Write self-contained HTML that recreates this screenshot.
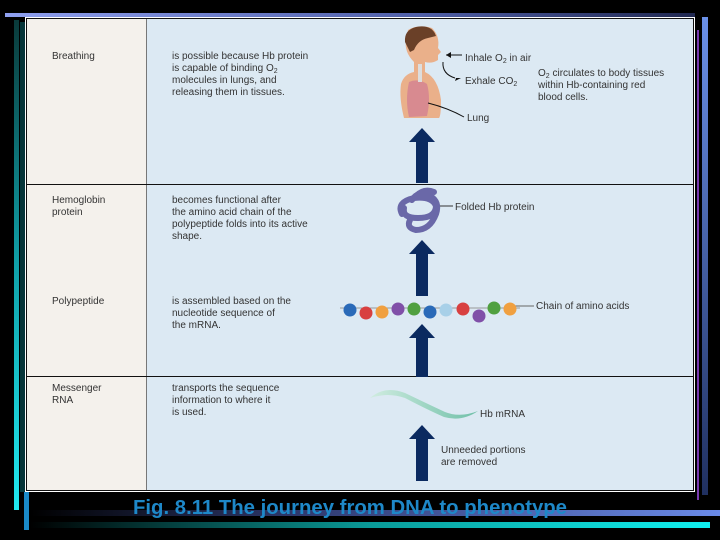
<!DOCTYPE html>
<html><head><meta charset="utf-8"><style>
body{margin:0;background:#000;width:720px;height:540px;overflow:hidden}
svg{display:block}
text{font-family:"Liberation Sans",sans-serif}
</style></head><body>
<svg width="720" height="540" viewBox="0 0 720 540" xmlns="http://www.w3.org/2000/svg">
<defs>
<linearGradient id="top" x1="0" x2="1"><stop offset="0" stop-color="#8fa0f0"/><stop offset="0.6" stop-color="#5060a8"/><stop offset="1" stop-color="#202850"/></linearGradient>
<linearGradient id="lb" x1="0" y1="0" x2="0" y2="1"><stop offset="0" stop-color="#0a3a3a"/><stop offset="0.5" stop-color="#10a0a8"/><stop offset="1" stop-color="#20e8f0"/></linearGradient>
<linearGradient id="b1" x1="0" x2="1"><stop offset="0" stop-color="#000"/><stop offset="0.4" stop-color="#303a70"/><stop offset="1" stop-color="#6a8ae8"/></linearGradient>
<linearGradient id="b2" x1="0" x2="1"><stop offset="0" stop-color="#000"/><stop offset="0.5" stop-color="#0a9a98"/><stop offset="1" stop-color="#10f0f0"/></linearGradient>
<linearGradient id="rb" x1="0" y1="0" x2="0" y2="1"><stop offset="0" stop-color="#6a90e8"/><stop offset="1" stop-color="#203060"/></linearGradient>
<linearGradient id="rna" x1="0" x2="1"><stop offset="0" stop-color="#d0ece0"/><stop offset="1" stop-color="#70c0a8"/></linearGradient>
</defs>
<rect x="5" y="13" width="690" height="4" fill="url(#top)"/>
<rect x="14" y="20" width="5" height="490" fill="url(#lb)"/>
<rect x="20" y="22" width="5" height="470" fill="#0a5a60" opacity="0.6"/>
<rect x="24" y="492" width="5" height="38" fill="#1a8ac8"/>
<rect x="702" y="17" width="6" height="478" fill="url(#rb)"/>
<rect x="697" y="30" width="2" height="470" fill="#7a3ab0"/>
<rect x="30" y="510" width="690" height="6" fill="url(#b1)"/>
<rect x="30" y="522" width="680" height="6" fill="url(#b2)"/>
<rect x="25" y="17" width="670" height="475" fill="#fff"/>
<rect x="27" y="19" width="120" height="471" fill="#f4f1ec"/>
<rect x="147" y="19" width="546" height="471" fill="#dce9f3"/>
<line x1="146.5" y1="19" x2="146.5" y2="490" stroke="#777" stroke-width="1"/>
<line x1="27" y1="184.5" x2="693" y2="184.5" stroke="#111" stroke-width="1"/>
<line x1="27" y1="376.5" x2="693" y2="376.5" stroke="#111" stroke-width="1"/>
<rect x="26.5" y="18.5" width="667" height="472" fill="none" stroke="#111" stroke-width="1"/>
<g font-size="10" fill="#333">
<text x="52" y="59">Breathing</text>
<text x="52" y="203">Hemoglobin</text><text x="52" y="215">protein</text>
<text x="52" y="304">Polypeptide</text>
<text x="52" y="391">Messenger</text><text x="52" y="403">RNA</text>
<text x="172" y="59">is possible because Hb protein</text>
<text x="172" y="71">is capable of binding O<tspan font-size="7" dy="2">2</tspan></text>
<text x="172" y="83">molecules in lungs, and</text>
<text x="172" y="95">releasing them in tissues.</text>
<text x="172" y="203">becomes functional after</text>
<text x="172" y="215">the amino acid chain of the</text>
<text x="172" y="227">polypeptide folds into its active</text>
<text x="172" y="239">shape.</text>
<text x="172" y="304">is assembled based on the</text>
<text x="172" y="316">nucleotide sequence of</text>
<text x="172" y="328">the mRNA.</text>
<text x="172" y="391">transports the sequence</text>
<text x="172" y="403">information to where it</text>
<text x="172" y="415">is used.</text>
<text x="465" y="61">Inhale O<tspan font-size="7" dy="2">2</tspan><tspan dy="-2"> in air</tspan></text>
<text x="465" y="84">Exhale CO<tspan font-size="7" dy="2">2</tspan></text>
<text x="538" y="76">O<tspan font-size="7" dy="2">2</tspan><tspan dy="-2"> circulates to body tissues</tspan></text>
<text x="538" y="88">within Hb-containing red</text>
<text x="538" y="100">blood cells.</text>
<text x="467" y="121">Lung</text>
<text x="455" y="210">Folded Hb protein</text>
<text x="536" y="309">Chain of amino acids</text>
<text x="480" y="417">Hb mRNA</text>
<text x="441" y="453">Unneeded portions</text>
<text x="441" y="465">are removed</text>
</g>
<path d="M408 30 Q418 24 432 28 Q440 36 438 48 L441 52 L438 55 L438 60 Q432 64 425 62 L425 72 Q438 78 441 100 Q441 116 439 118 L404 118 Q399 98 401 84 Q404 74 414 72 L414 62 Q404 52 406 40 Z" fill="#eab08a"/>
<path d="M405 42 Q404 30 416 27 Q432 24 436 36 L428 38 Q418 40 414 50 L410 52 Z" fill="#6a4028"/>
<path d="M409 82 Q418 78 427 84 Q431 98 427 116 L409 117 Q405 100 409 82Z" fill="#d88a90"/>
<rect x="418" y="64" width="4" height="18" fill="#ddd"/>
<g stroke="#111" stroke-width="1" fill="none">
<line x1="446" y1="55" x2="462" y2="55"/>
<path d="M443 62 Q442 74 455 78"/>
<path d="M428 103 Q448 108 464 117"/>
<line x1="438" y1="206" x2="453" y2="206" stroke="#333"/>
<line x1="515" y1="306" x2="534" y2="306" stroke="#666"/>
<line x1="340" y1="308" x2="520" y2="308" stroke="#999"/>
</g>
<path d="M446 55 L451 52 L451 58Z M456 78 L461 78 L455 81Z" fill="#111"/>
<g fill="none" stroke="#6a68a8" stroke-width="6" stroke-linecap="round">
<path d="M402 214 Q396 202 414 198 Q432 196 436 206 Q436 218 418 218 Q402 218 404 208"/>
<path d="M412 200 Q418 190 430 196 Q440 202 436 214 Q430 230 416 230 Q406 228 410 220"/>
<path d="M416 196 Q424 188 434 192"/>
</g>
<g>
<circle cx="350" cy="310" r="6.5" fill="#2a6ab8"/>
<circle cx="366" cy="313" r="6.5" fill="#d84040"/>
<circle cx="382" cy="312" r="6.5" fill="#f0a040"/>
<circle cx="398" cy="309" r="6.5" fill="#8050a8"/>
<circle cx="414" cy="309" r="6.5" fill="#50a040"/>
<circle cx="430" cy="312" r="6.5" fill="#2a6ab8"/>
<circle cx="446" cy="310" r="6.5" fill="#a8d0e8"/>
<circle cx="463" cy="309" r="6.5" fill="#d84040"/>
<circle cx="479" cy="316" r="6.5" fill="#8050a8"/>
<circle cx="494" cy="308" r="6.5" fill="#50a040"/>
<circle cx="510" cy="309" r="6.5" fill="#f0a040"/>
</g>
<path d="M370 398 Q385 385 405 393 Q430 405 445 412 Q460 418 478 411 Q462 422 444 417 Q428 410 405 398 Q388 392 370 398Z" fill="url(#rna)"/>
<g fill="#0b2a60">
<path d="M416 183 L416 142 L409 142 L422 128 L435 142 L428 142 L428 183Z"/>
<path d="M416 296 L416 254 L409 254 L422 240 L435 254 L428 254 L428 296Z"/>
<path d="M416 377 L416 338 L409 338 L422 324 L435 338 L428 338 L428 377Z"/>
<path d="M416 481 L416 439 L409 439 L422 425 L435 439 L428 439 L428 481Z"/>
</g>
<text x="350" y="514" text-anchor="middle" font-size="20" font-weight="bold" fill="#1e88c8" textLength="434" lengthAdjust="spacingAndGlyphs">Fig. 8.11  The journey from DNA to phenotype</text>
</svg>
</body></html>
